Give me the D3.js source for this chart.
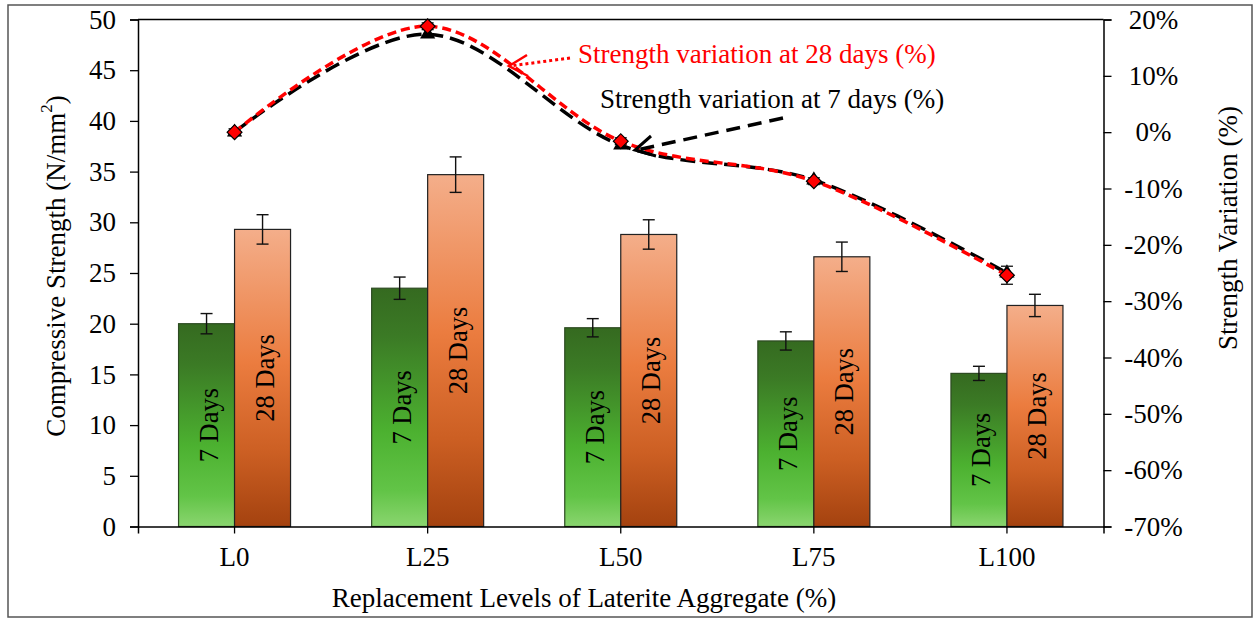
<!DOCTYPE html>
<html>
<head>
<meta charset="utf-8">
<script src="https://cdn.jsdelivr.net/npm/d3@7"></script>
<style>
  body { margin: 0; background: #fff; }
  svg { display: block; font-family: "Liberation Serif", "Times New Roman", serif; }
</style>
</head>
<body>
<svg id="chart" width="1256" height="620"></svg>
<script>
// data
const levels = ['L0', 'L25', 'L50', 'L75', 'L100'];
const strength7 = [20.0, 23.5, 19.6, 18.3, 15.1];
const strength28 = [29.3, 34.7, 28.8, 26.6, 21.8];
const err7 = [1.0, 1.1, 0.9, 0.9, 0.7];
const err28 = [1.45, 1.75, 1.45, 1.45, 1.1];
const variation7 = [0, 17.4, -2.3, -8.5, -25.0];
const variation28 = [0, 18.8, -1.6, -8.7, -25.4];
const errVar28 = [0.6, 0.6, 0.6, 0.6, 1.6];
const leftTicks = [0, 5, 10, 15, 20, 25, 30, 35, 40, 45, 50];
const rightTicks = [-70, -60, -50, -40, -30, -20, -10, 0, 10, 20];

const svg = d3.select('#chart');
const plotL = 138, plotR = 1103.5, plotT = 19.5, plotB = 526.5;

// outer frame
svg.append('rect').attr('x', 8).attr('y', 5).attr('width', 1244).attr('height', 612)
  .attr('fill', 'none').attr('stroke', '#555').attr('stroke-width', 1.5);

const defs = svg.append('defs');
const gGreen = defs.append('linearGradient').attr('id', 'green').attr('x1', 0).attr('y1', 0).attr('x2', 0).attr('y2', 1);
[['0%', '#356a20'], ['20%', '#3b7a25'], ['60%', '#4cb130'], ['85%', '#62c447'], ['100%', '#8ad56f']]
  .forEach(s => gGreen.append('stop').attr('offset', s[0]).attr('stop-color', s[1]));
const gOrange = defs.append('linearGradient').attr('id', 'orange').attr('x1', 0).attr('y1', 0).attr('x2', 0).attr('y2', 1);
[['0%', '#f4ae8a'], ['45%', '#eb7c3f'], ['75%', '#cc5f23'], ['100%', '#a4420f']]
  .forEach(s => gOrange.append('stop').attr('offset', s[0]).attr('stop-color', s[1]));

const x = d3.scaleBand().domain(levels).range([plotL, plotR]).paddingInner(0.42).paddingOuter(0.21);
const xs = d3.scaleBand().domain(['7', '28']).range([0, x.bandwidth()]);
const y = d3.scaleLinear().domain([0, 50]).range([plotB, plotT]);
const y2 = d3.scaleLinear().domain([-70, 20]).range([plotB, plotT]);

// bars
const groups = svg.append('g').selectAll('g').data(levels).enter().append('g')
  .attr('transform', d => `translate(${x(d)},0)`);

groups.append('rect')
  .attr('x', xs('7')).attr('width', xs.bandwidth())
  .attr('y', (d, i) => y(strength7[i])).attr('height', (d, i) => plotB - y(strength7[i]))
  .attr('fill', 'url(#green)').attr('stroke', '#2d4a22').attr('stroke-width', 1.2);
groups.append('rect')
  .attr('x', xs('28')).attr('width', xs.bandwidth())
  .attr('y', (d, i) => y(strength28[i])).attr('height', (d, i) => plotB - y(strength28[i]))
  .attr('fill', 'url(#orange)').attr('stroke', '#222').attr('stroke-width', 1.2);

// bar labels
groups.append('text')
  .attr('transform', (d, i) => `translate(${xs('7') + xs.bandwidth() / 2 + 2},${(y(strength7[i]) + plotB) / 2}) rotate(-90)`)
  .attr('text-anchor', 'middle').attr('dominant-baseline', 'central')
  .style('font-size', '26.5px').text('7 Days');
groups.append('text')
  .attr('transform', (d, i) => `translate(${xs('28') + xs.bandwidth() / 2 + 2},${(y(strength28[i]) + plotB) / 2}) rotate(-90)`)
  .attr('text-anchor', 'middle').attr('dominant-baseline', 'central')
  .style('font-size', '26.5px').text('28 Days');

// error bars
function errorBar(g, cx, v, e, scale) {
  const t = scale(v + e), b = scale(v - e);
  g.append('line').attr('x1', cx).attr('x2', cx).attr('y1', t).attr('y2', b);
  g.append('line').attr('x1', cx - 6).attr('x2', cx + 6).attr('y1', t).attr('y2', t);
  g.append('line').attr('x1', cx - 6).attr('x2', cx + 6).attr('y1', b).attr('y2', b);
}
const errG = svg.append('g').attr('stroke', '#111').attr('stroke-width', 1.4);
levels.forEach((d, i) => {
  errorBar(errG, x(d) + xs('7') + xs.bandwidth() / 2, strength7[i], err7[i], y);
  errorBar(errG, x(d) + xs('28') + xs.bandwidth() / 2, strength28[i], err28[i], y);
});

// plot frame + axes
svg.append('line').attr('x1', plotL).attr('x2', plotR).attr('y1', plotT).attr('y2', plotT)
  .attr('stroke', '#000').attr('stroke-width', 1.5);

const yAxis = svg.append('g').attr('transform', `translate(${plotL},0)`)
  .call(d3.axisLeft(y).tickValues(leftTicks).tickSize(8).tickPadding(14));
const y2Axis = svg.append('g').attr('transform', `translate(${plotR},0)`)
  .call(d3.axisRight(y2).tickValues(rightTicks).tickSize(8).tickPadding(11).tickFormat(d => d + '%'));
const xAxis = svg.append('g').attr('transform', `translate(0,${plotB})`)
  .call(d3.axisBottom(x).tickSize(7).tickPadding(13));
[yAxis, y2Axis, xAxis].forEach(a => {
  a.select('.domain').attr('stroke', '#000').attr('stroke-width', 1.5);
  a.selectAll('.tick line').attr('stroke', '#000').attr('stroke-width', 1.3);
  a.selectAll('text').attr('fill', '#000').style('font-family', 'Liberation Serif').style('font-size', '27px');
});
// right labels sit centred in their column
y2Axis.selectAll('text').attr('text-anchor', 'middle').attr('x', 50);

// variation lines
const cx = d => x(d) + x.bandwidth() / 2;
const smooth = d3.line().x((d, i) => cx(levels[i])).y(d => y2(d)).curve(d3.curveCatmullRom.alpha(0));

svg.append('path').datum(variation7).attr('d', smooth)
  .attr('fill', 'none').attr('stroke', '#000').attr('stroke-width', 3.5).attr('stroke-dasharray', '15,7');
svg.append('g').selectAll('path').data(variation7).enter().append('path')
  .attr('d', d3.symbol().type(d3.symbolTriangle).size(100))
  .attr('transform', (d, i) => `translate(${cx(levels[i])},${y2(d)})`)
  .attr('fill', '#000');

const varErr = svg.append('g').attr('stroke', '#111').attr('stroke-width', 1.3);
levels.forEach((d, i) => errorBar(varErr, cx(d), variation28[i], errVar28[i], y2));

svg.append('path').datum(variation28).attr('d', smooth)
  .attr('fill', 'none').attr('stroke', '#ff0000').attr('stroke-width', 3.5).attr('stroke-dasharray', '9,5');
svg.append('g').selectAll('path').data(variation28).enter().append('path')
  .attr('d', d3.symbol().type(d3.symbolSquare).size(110))
  .attr('transform', (d, i) => `translate(${cx(levels[i])},${y2(d)}) rotate(45)`)
  .attr('fill', '#ff0000').attr('stroke', '#000').attr('stroke-width', 1.2);

// annotations
svg.append('line').attr('x1', 570).attr('y1', 58).attr('x2', 510).attr('y2', 66)
  .attr('stroke', '#ff0000').attr('stroke-width', 3).attr('stroke-dasharray', '3,3');
svg.append('path').attr('d', 'M527,55 L509,66 L528,76')
  .attr('fill', 'none').attr('stroke', '#ff0000').attr('stroke-width', 2.5);
svg.append('text').attr('x', 578).attr('y', 63).attr('fill', '#ff0000')
  .style('font-size', '27px').text('Strength variation at 28 days (%)');

svg.append('line').attr('x1', 783).attr('y1', 118).attr('x2', 637).attr('y2', 150)
  .attr('stroke', '#000').attr('stroke-width', 3.5).attr('stroke-dasharray', '14,8');
svg.append('path').attr('d', 'M651,136 L635,150 L656,156')
  .attr('fill', 'none').attr('stroke', '#000').attr('stroke-width', 3);
svg.append('text').attr('x', 600).attr('y', 108).attr('fill', '#000')
  .style('font-size', '27px').text('Strength variation at 7 days (%)');

// axis titles
const yt = svg.append('text').attr('transform', 'translate(56,266) rotate(-90)')
  .attr('text-anchor', 'middle').attr('dominant-baseline', 'central').style('font-size', '27px');
yt.append('tspan').text('Compressive Strength (N/mm');
yt.append('tspan').attr('baseline-shift', 'super').style('font-size', '17px').text('2');
yt.append('tspan').text(')');

svg.append('text').attr('transform', 'translate(1228,228) rotate(-90)')
  .attr('text-anchor', 'middle').attr('dominant-baseline', 'central').style('font-size', '27px')
  .text('Strength Variation (%)');

svg.append('text').attr('x', 584).attr('y', 607).attr('text-anchor', 'middle')
  .style('font-size', '27px').text('Replacement Levels of Laterite Aggregate (%)');
</script>
</body>
</html>
